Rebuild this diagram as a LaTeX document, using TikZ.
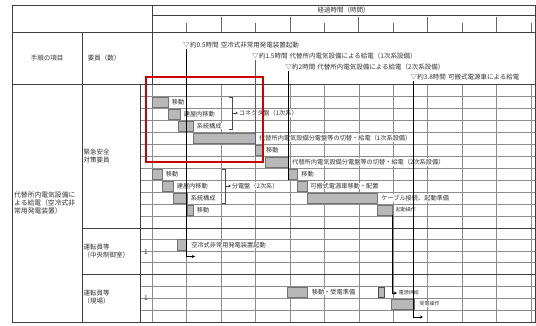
\documentclass[tikz,border=0pt]{standalone}
\usepackage{fontspec}
\setmainfont{Noto Sans CJK JP}
\usetikzlibrary{arrows.meta}
\begin{document}
\begin{tikzpicture}[x=1pt,y=-1pt,
  tl/.style={black!75,line width=0.6pt},
  gl/.style={black!45,line width=0.4pt},
  tk/.style={black!60,line width=0.5pt},
  bar/.style={draw=black!55,fill=black!28,line width=0.3pt,inner sep=0pt,outer sep=0pt,anchor=north west,minimum height=10pt},
  lbl/.style={font=\fontsize{6.2}{7}\selectfont,text=black!80,fill=white,inner sep=0.6pt,anchor=west},
  hd/.style={font=\fontsize{6.5}{8}\selectfont,text=black!80,inner sep=0pt},
  evt/.style={black,line width=0.9pt},
  arr/.style={black,line width=0.9pt,-{Stealth[length=3pt,width=3pt]}},
  sarr/.style={black!75,line width=0.5pt,-{Stealth[length=2.5pt,width=2.5pt]}},
  brk/.style={black!70,line width=0.5pt},
]
\useasboundingbox (0,0) rectangle (536,325);
\fill[white] (0,0) rectangle (536,325);

% ---- body grid ----
\foreach \y in {96,108,...,216} \draw[gl] (140,\y) -- (535,\y);
\foreach \y in {239.5,251,262.5} \draw[gl] (140,\y) -- (535,\y);
\foreach \y in {286,298,310} \draw[gl] (140,\y) -- (535,\y);
\foreach \i in {1,...,11} \draw[gl] ({152+34.45*\i},84) -- ({152+34.45*\i},322);
\draw[gl] (152,84) -- (152,322);

% ---- table frame ----
\draw[tl] (12,5) rectangle (535,322);
\draw[tl] (152,15) -- (535,15);
\draw[tl] (12,32) -- (535,32);
\draw[tl] (12,84) -- (535,84);
\draw[tl] (82,228) -- (535,228);
\draw[tl] (82,274) -- (535,274);
\draw[tl] (82,32) -- (82,322);
\draw[tl] (140,84) -- (140,322);
\draw[tl] (152,5) -- (152,84);

% ---- time ticks ----
\foreach \i in {1,3,5,7,9,11} \draw[tk] ({152+34.45*\i},23) -- ({152+34.45*\i},32);
\foreach \i in {2,4,6,8,10} \draw[tk] ({152+34.45*\i},17) -- ({152+34.45*\i},32);

% ---- header texts ----
\node[hd] (hTime) at (343.5,10) {経過時間（時間）};
\node[hd] (hStep) at (47,58) {手順の項目};
\node[hd] (hTeam) at (104,58) {要員（数）};

% ---- left column texts ----
\node[hd,font=\fontsize{6.8}{8.2}\selectfont,align=left,anchor=west] (proc) at (14,203) {代替所内電気設備に\\よる給電（空冷式非\\常用発電装置）};
\node[hd,align=left,anchor=west] (tm1) at (83.5,156) {緊急安全\\対策要員};
\node[hd,align=left,anchor=west] (tm2) at (83.5,251) {運転員等\\（中央制御室）};
\node[hd,align=left,anchor=west] (tm3) at (83.5,297.5) {運転員等\\（現場）};
\node[hd] (n2) at (146,252) {1};
\node[hd] (n3) at (146,298) {1};

% ---- group 1 bars ----
\node[bar,minimum width=16pt] (b1) at (152,97) {};
\node[lbl] (l1) at ([xshift=3pt]b1.east) {移動};
\node[bar,minimum width=12pt] (b2) at (168,109) {};
\node[lbl] (l2) at ([xshift=3pt]b2.east) {建屋内移動};
\node[bar,minimum width=15pt] (b3) at (178,121) {};
\node[lbl] (l3) at ([xshift=3pt]b3.east) {系統構成};
\node[bar,minimum width=62.35pt] (b4) at (193,133) {};
\node[lbl] (l4) at ([xshift=3pt]b4.east) {代替所内電気設備分電盤等の切替・給電（1次系設備）};
\node[bar,minimum width=7pt] (b5) at (255.35,145) {};
\node[lbl] (l5) at ([xshift=3pt]b5.east) {移動};
\node[bar,minimum width=23pt] (b6) at (265.5,157) {};
\node[lbl] (l6) at ([xshift=3pt]b6.east) {代替所内電気設備分電盤等の切替・給電（2次系設備）};

\node[bar,minimum width=10pt] (b7) at (152,169) {};
\node[lbl] (l7) at ([xshift=3pt]b7.east) {移動};
\node[bar,minimum width=11pt] (b8) at (162,181) {};
\node[lbl] (l8) at ([xshift=3pt]b8.east) {建屋内移動};
\node[bar,minimum width=14pt] (b9) at (173,193) {};
\node[lbl] (l9) at ([xshift=3pt]b9.east) {系統構成};
\node[bar,minimum width=6pt] (b10) at (187,205) {};
\node[lbl] (l10) at ([xshift=3pt]b10.east) {移動};

\node[bar,minimum width=9pt] (b11) at (288.5,169) {};
\node[lbl] (l11) at ([xshift=3pt]b11.east) {移動};
\node[bar,minimum width=10pt] (b12) at (297.5,181) {};
\node[lbl] (l12) at ([xshift=2pt]b12.east) {可搬式電源車移動・配置};
\node[bar,minimum width=70pt] (b13) at (307.5,193) {};
\node[lbl] (l13) at ([xshift=3pt]b13.east) {ケーブル接続、起動準備};
\node[bar,minimum width=14.5pt] (b14) at (377.5,205) {};
\node[lbl,font=\fontsize{5}{6}\selectfont] (l14) at ([xshift=3pt]b14.east) {起動操作};

% ---- brackets ----
\draw[brk] (229,97) -- (232,97) -- (232,129) -- (229,129);
\coordinate (br1m) at (232,113);
\node[lbl] (br1l) at (238,113) {コネクタ盤（1次系）};
\draw[sarr] (br1m) -- (br1l.west);
\draw[brk] (222,169) -- (225,169) -- (225,203) -- (222,203);
\coordinate (br2m) at (225,186);
\node[lbl] (br2l) at (231,186) {分電盤（2次系）};
\draw[sarr] (br2m) -- (br2l.west);

% ---- group 2 ----
\node[bar,minimum width=9.5pt,minimum height=11pt] (b15) at (177,239.5) {};
\node[lbl] (l15) at ([xshift=4pt]b15.east) {空冷式非常用発電装置起動};

% ---- group 3 ----
\node[bar,minimum width=20pt] (b16) at (287,287) {};
\node[lbl] (l16) at ([xshift=4pt]b16.east) {移動・受電準備};
\node[bar,minimum width=6pt,draw=black!70] (b17) at (378,287) {};
\node[bar,minimum width=22.8pt] (b18) at (391,299) {};
\node[lbl,font=\fontsize{5}{6}\selectfont] (l18) at ([xshift=5pt]b18.east) {受電操作};
\coordinate (a14e) at (397,293);
\node[lbl,font=\fontsize{5}{6}\selectfont] (l19) at ([xshift=1pt]a14e) {電源供給};
\draw[arr] (b14.south east) |- (a14e);

% ---- events ----
\node[hd] (v1) at (186.45,45) {▽};
\node[hd,anchor=west] (e1) at (v1.east) {約0.5時間\,\,空冷式非常用発電装置起動};
\node[hd] (v2) at (255.35,56) {▽};
\node[hd,anchor=west] (e2) at (v2.east) {約1.5時間\,\,代替所内電気設備による給電（1次系設備）};
\node[hd] (v3) at (288.5,67) {▽};
\node[hd,anchor=west] (e3) at (v3.east) {約2時間\,\,代替所内電気設備による給電（2次系設備）};
\node[hd] (v4) at (413.8,77) {▽};
\node[hd,anchor=west] (e4) at (v4.east) {約3.8時間\,\,可搬式電源車による給電};

\coordinate (e1end) at (195,256.5);
\draw[arr] ([yshift=-1pt]v1.south) |- (e1end);
\coordinate (e2end) at (255.35,156);
\draw[evt,draw={rgb,255:red,85;green,85;blue,150}] ([yshift=-1pt]v2.south) -- (e2end);
\coordinate (e3end) at (288.5,180);
\draw[evt] ([yshift=-1pt]v3.south) -- (e3end);
\coordinate (e4end) at (423,317);
\draw[arr] ([yshift=-1pt]v4.south) |- (e4end);

% ---- highlight ----
\draw[red!80!black,line width=1.1pt] (146,77) rectangle (263,162);
\end{tikzpicture}
\end{document}
